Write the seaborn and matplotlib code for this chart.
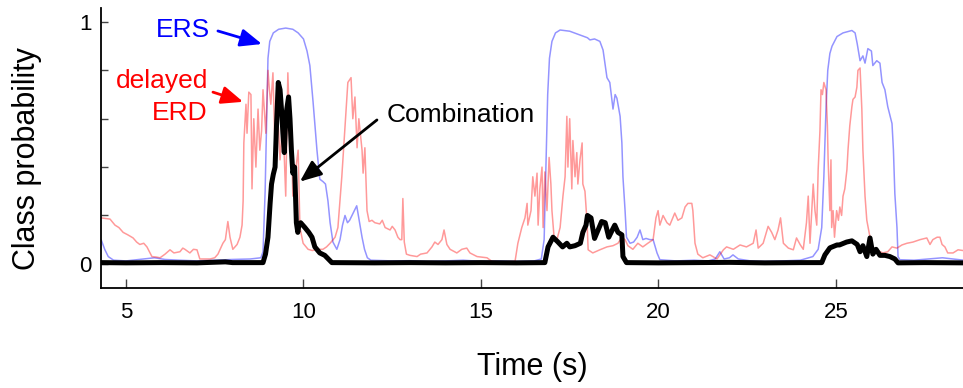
import numpy as np
import pandas as pd
import matplotlib
matplotlib.use("Agg")
import matplotlib.pyplot as plt
import seaborn as sns

# ---------------- data ----------------
ers_t = [4.30, 4.40, 4.50, 4.65, 5.0, 5.5, 5.8, 6.1, 6.5, 7.0, 7.5, 8.0, 8.5, 8.80, 8.86,
         8.92, 8.97, 9.00, 9.05, 9.15, 9.30, 9.50, 9.70, 9.85, 10.0, 10.10, 10.18, 10.27,
         10.38, 10.46, 10.55, 10.62, 10.69, 10.75, 10.83, 10.94, 11.03, 11.10, 11.17, 11.24,
         11.30, 11.40, 11.50, 11.57, 11.65, 11.72, 11.80, 11.9, 12.5, 13.0, 13.5, 14.0, 14.5,
         15.0, 15.5, 16.0, 16.5, 16.70, 16.78, 16.83, 16.88, 16.93, 17.00, 17.10, 17.23,
         17.50, 17.80, 18.0, 18.07, 18.20, 18.35, 18.44, 18.55, 18.63, 18.72, 18.78, 18.83,
         18.92, 18.97, 19.00, 19.06, 19.10, 19.20, 19.30, 19.40, 19.48, 19.56, 19.65, 19.76,
         19.85, 19.96, 20.04, 20.5, 21.0, 21.4, 21.6, 21.73, 21.85, 22.0, 22.1, 22.25, 22.6,
         23.0, 23.5, 24.0, 24.35, 24.50, 24.60, 24.66, 24.72, 24.77, 24.83, 24.89, 25.03,
         25.20, 25.45, 25.54, 25.60, 25.68, 25.76, 25.82, 25.90, 26.00, 26.04, 26.15, 26.24,
         26.30, 26.38, 26.46, 26.58, 26.62, 26.66, 26.72, 26.75, 26.80, 27.2, 27.6, 28.0,
         28.3, 28.6]
ers_p = [0.10, 0.06, 0.03, 0.015, 0.012, 0.02, 0.025, 0.018, 0.015, 0.012, 0.015, 0.018, 0.02,
         0.025, 0.05, 0.30, 0.65, 0.85, 0.92, 0.955, 0.97, 0.975, 0.97, 0.955, 0.93, 0.88,
         0.82, 0.67, 0.47, 0.35, 0.34, 0.33, 0.26, 0.17, 0.09, 0.06, 0.10, 0.16, 0.20, 0.17,
         0.18, 0.21, 0.24, 0.18, 0.11, 0.06, 0.025, 0.015, 0.012, 0.013, 0.01, 0.012, 0.015,
         0.01, 0.012, 0.01, 0.012, 0.02, 0.10, 0.40, 0.70, 0.85, 0.92, 0.955, 0.967, 0.962,
         0.946, 0.935, 0.926, 0.93, 0.92, 0.884, 0.77, 0.75, 0.64, 0.70, 0.685, 0.61, 0.50,
         0.36, 0.22, 0.11, 0.085, 0.09, 0.11, 0.14, 0.10, 0.105, 0.10, 0.10, 0.045, 0.017,
         0.012, 0.015, 0.012, 0.02, 0.05, 0.02, 0.025, 0.037, 0.02, 0.012, 0.01, 0.012, 0.015,
         0.03, 0.06, 0.15, 0.36, 0.64, 0.80, 0.87, 0.90, 0.94, 0.955, 0.965, 0.955, 0.91,
         0.84, 0.86, 0.83, 0.89, 0.88, 0.82, 0.84, 0.83, 0.75, 0.72, 0.65, 0.58, 0.47, 0.29,
         0.15, 0.03, 0.017, 0.015, 0.02, 0.025, 0.02, 0.015]

erd_t = [4.30, 4.55, 4.69, 4.80, 4.92, 5.05, 5.20, 5.30, 5.39, 5.50, 5.59, 5.66, 5.73, 5.85,
         5.96, 6.10, 6.24, 6.35, 6.52, 6.60, 6.66, 6.80, 6.90, 7.00, 7.08, 7.20, 7.37, 7.50,
         7.59, 7.73, 7.80, 7.87, 7.93, 8.01, 8.13, 8.21, 8.27, 8.30, 8.32, 8.38, 8.41, 8.46,
         8.52, 8.55, 8.60, 8.66, 8.72, 8.77, 8.82, 8.86, 8.94, 9.00, 9.04, 9.08, 9.14, 9.20,
         9.25, 9.30, 9.34, 9.42, 9.50, 9.56, 9.62, 9.66, 9.70, 9.75, 9.79, 9.85, 9.90, 9.99,
         10.13, 10.25, 10.38, 10.55, 10.65, 10.75, 10.89, 10.97, 11.08, 11.17, 11.25, 11.34,
         11.39, 11.45, 11.51, 11.56, 11.65, 11.68, 11.73, 11.79, 11.85, 11.93, 12.01, 12.15,
         12.22, 12.30, 12.44, 12.50, 12.58, 12.66, 12.72, 12.77, 12.80, 12.84, 12.90, 13.00,
         13.20, 13.30, 13.48, 13.62, 13.70, 13.79, 13.90, 13.96, 14.04, 14.13, 14.32, 14.46,
         14.60, 14.69, 14.89, 15.17, 15.31, 15.60, 15.96, 16.04, 16.15, 16.24, 16.30, 16.32,
         16.41, 16.46, 16.52, 16.58, 16.61, 16.66, 16.72, 16.75, 16.80, 16.86, 16.92, 16.97,
         17.00, 17.06, 17.14, 17.23, 17.31, 17.37, 17.42, 17.45, 17.50, 17.56, 17.59, 17.65,
         17.70, 17.73, 17.79, 17.85, 17.87, 17.93, 17.99, 18.02, 18.15, 18.35, 18.55, 18.72,
         18.86, 18.97, 19.06, 19.14, 19.28, 19.42, 19.56, 19.70, 19.85, 19.93, 19.99, 20.04,
         20.13, 20.24, 20.32, 20.46, 20.55, 20.66, 20.75, 20.83, 20.94, 20.97, 21.03, 21.11,
         21.25, 21.45, 21.65, 21.83, 21.92, 22.11, 22.30, 22.48, 22.67, 22.75, 22.81, 22.95,
         23.09, 23.19, 23.28, 23.37, 23.44, 23.52, 23.66, 23.80, 23.89, 23.99, 24.08, 24.17,
         24.22, 24.27, 24.32, 24.36, 24.41, 24.46, 24.50, 24.55, 24.58, 24.62, 24.66, 24.72,
         24.76, 24.78, 24.83, 24.86, 24.88, 24.92, 24.96, 25.02, 25.07, 25.11, 25.16, 25.20,
         25.25, 25.31, 25.34, 25.39, 25.45, 25.48, 25.54, 25.59, 25.62, 25.68, 25.73, 25.76,
         25.82, 25.87, 25.96, 26.04, 26.18, 26.32, 26.46, 26.58, 26.72, 26.86, 27.00, 27.17,
         27.37, 27.56, 27.65, 27.73, 27.85, 27.93, 27.99, 28.07, 28.15, 28.30, 28.44, 28.58]
erd_p = [0.19, 0.185, 0.16, 0.15, 0.13, 0.12, 0.107, 0.09, 0.08, 0.085, 0.07, 0.05, 0.03, 0.028,
         0.025, 0.04, 0.058, 0.045, 0.05, 0.065, 0.06, 0.045, 0.06, 0.058, 0.02, 0.02, 0.02,
         0.025, 0.04, 0.085, 0.10, 0.175, 0.11, 0.06, 0.08, 0.11, 0.16, 0.26, 0.50, 0.66, 0.54,
         0.71, 0.70, 0.31, 0.60, 0.40, 0.64, 0.47, 0.55, 0.72, 0.54, 0.80, 0.72, 0.66, 0.79,
         0.47, 0.64, 0.55, 0.43, 0.60, 0.28, 0.79, 0.50, 0.56, 0.28, 0.35, 0.40, 0.47, 0.15,
         0.085, 0.06, 0.055, 0.06, 0.06, 0.07, 0.085, 0.11, 0.15, 0.36, 0.57, 0.75, 0.77, 0.60,
         0.69, 0.48, 0.60, 0.47, 0.375, 0.48, 0.22, 0.175, 0.18, 0.17, 0.165, 0.18, 0.15, 0.14,
         0.155, 0.14, 0.11, 0.10, 0.10, 0.27, 0.09, 0.04, 0.035, 0.03, 0.04, 0.045, 0.07, 0.09,
         0.08, 0.10, 0.14, 0.08, 0.06, 0.045, 0.06, 0.065, 0.045, 0.03, 0.025, 0.01, 0.008,
         0.01, 0.085, 0.15, 0.19, 0.25, 0.16, 0.22, 0.36, 0.28, 0.375, 0.16, 0.31, 0.40, 0.15,
         0.38, 0.22, 0.44, 0.33, 0.22, 0.11, 0.10, 0.15, 0.28, 0.36, 0.61, 0.40, 0.60, 0.31,
         0.51, 0.36, 0.46, 0.33, 0.43, 0.50, 0.33, 0.30, 0.17, 0.058, 0.045, 0.058, 0.07, 0.075,
         0.085, 0.11, 0.10, 0.075, 0.06, 0.085, 0.07, 0.085, 0.10, 0.19, 0.22, 0.16, 0.20,
         0.17, 0.16, 0.21, 0.18, 0.19, 0.235, 0.25, 0.25, 0.22, 0.085, 0.04, 0.025, 0.037,
         0.02, 0.058, 0.07, 0.06, 0.078, 0.07, 0.085, 0.14, 0.065, 0.085, 0.155, 0.13, 0.10,
         0.14, 0.19, 0.085, 0.065, 0.058, 0.107, 0.08, 0.06, 0.17, 0.28, 0.085, 0.22, 0.33,
         0.22, 0.16, 0.39, 0.55, 0.72, 0.70, 0.75, 0.72, 0.57, 0.43, 0.22, 0.43, 0.15, 0.22,
         0.11, 0.22, 0.18, 0.235, 0.20, 0.28, 0.31, 0.39, 0.47, 0.57, 0.65, 0.68, 0.69, 0.73,
         0.80, 0.81, 0.64, 0.47, 0.28, 0.18, 0.11, 0.058, 0.055, 0.045, 0.05, 0.07, 0.065,
         0.078, 0.085, 0.09, 0.10, 0.107, 0.08, 0.10, 0.11, 0.11, 0.08, 0.07, 0.045, 0.045,
         0.058, 0.055]

comb_t = [4.30, 5.0, 6.0, 7.0, 7.8, 8.0, 8.86, 8.93, 9.00, 9.06, 9.10, 9.15, 9.20, 9.24, 9.29,
          9.34, 9.39, 9.42, 9.46, 9.50, 9.53, 9.58, 9.62, 9.66, 9.70, 9.75, 9.80, 9.84, 9.87,
          9.92, 10.04, 10.15, 10.24, 10.32, 10.46, 10.60, 10.70, 10.80, 12.0, 13.0, 14.0, 15.0,
          16.0, 16.80, 16.89, 17.03, 17.17, 17.30, 17.42, 17.50, 17.65, 17.80, 17.87, 17.96,
          18.00, 18.10, 18.20, 18.30, 18.40, 18.50, 18.60, 18.70, 18.77, 18.86, 18.97, 19.00,
          19.10, 20.0, 21.0, 22.0, 23.0, 24.0, 24.60, 24.69, 24.83, 25.03, 25.10, 25.30, 25.45,
          25.60, 25.68, 25.76, 25.87, 25.96, 26.04, 26.13, 26.24, 26.38, 26.52, 26.66, 26.75,
          27.5, 28.6]
comb_p = [0.005, 0.004, 0.005, 0.004, 0.008, 0.005, 0.005, 0.04, 0.11, 0.25, 0.33, 0.37, 0.40,
          0.57, 0.75, 0.72, 0.62, 0.54, 0.46, 0.60, 0.64, 0.69, 0.60, 0.47, 0.375, 0.40, 0.17,
          0.13, 0.16, 0.17, 0.15, 0.13, 0.11, 0.07, 0.045, 0.035, 0.02, 0.005, 0.004, 0.005,
          0.004, 0.005, 0.004, 0.005, 0.07, 0.11, 0.09, 0.07, 0.085, 0.07, 0.075, 0.085, 0.13,
          0.16, 0.20, 0.19, 0.105, 0.14, 0.175, 0.17, 0.11, 0.14, 0.16, 0.13, 0.12, 0.03,
          0.005, 0.004, 0.005, 0.006, 0.004, 0.005, 0.005, 0.037, 0.066, 0.078, 0.078, 0.09,
          0.095, 0.08, 0.05, 0.075, 0.03, 0.107, 0.04, 0.06, 0.035, 0.035, 0.03, 0.02, 0.004,
          0.005, 0.004]

x_ticks = [5, 10, 15, 20, 25]
y_ticks = [0, 0.2, 0.4, 0.6, 0.8, 1.0]
y_ticklabels = ["0", "", "", "", "", "1"]

# ---------------- styling ----------------
sns.set_style("ticks")
plt.rcParams["font.family"] = ["Liberation Sans", "DejaVu Sans"]
plt.rcParams["text.color"] = "black"
plt.rcParams["axes.labelcolor"] = "black"
plt.rcParams["xtick.color"] = "black"
plt.rcParams["ytick.color"] = "black"

fig = plt.figure(figsize=(9.63, 3.88), dpi=100)
ax = fig.add_axes([101 / 963, 1 - 288 / 388, 862 / 963, 280 / 388])

ers_df = pd.DataFrame({"t": ers_t, "p": ers_p})
erd_df = pd.DataFrame({"t": erd_t, "p": erd_p})
comb_df = pd.DataFrame({"t": comb_t, "p": comb_p})

sns.lineplot(data=ers_df, x="t", y="p", ax=ax, color="blue", alpha=0.42, lw=1.1,
             estimator=None)
sns.lineplot(data=erd_df, x="t", y="p", ax=ax, color="red", alpha=0.4, lw=1.1,
             estimator=None)
sns.lineplot(data=comb_df, x="t", y="p", ax=ax, color="black", lw=3.6,
             estimator=None, solid_joinstyle="round")

ax.set_xlim(4.296, 28.58)
ax.set_ylim(-0.1, 1.058)
ax.set_xticks(x_ticks)
ax.set_xticklabels([str(v) for v in x_ticks])
ax.set_yticks(y_ticks)
ax.set_yticklabels(y_ticklabels)

sns.despine(ax=ax, top=True, right=True)
for s in ["left", "bottom"]:
    ax.spines[s].set_linewidth(1.3)
    ax.spines[s].set_color("black")
ax.tick_params(axis="x", direction="in", length=6.5, width=1, color="#444444",
               labelcolor="black", labelsize=16, pad=10)
ax.tick_params(axis="y", direction="in", length=5, width=1, color="#444444",
               labelcolor="black", labelsize=16, pad=7)

ax.set_xlabel("Time (s)", fontsize=22, color="black")
ax.set_ylabel("Class probability", fontsize=22, color="black")
ax.xaxis.set_label_coords(0.5, -0.229)
ax.yaxis.set_label_coords(-0.068, 0.464)

# ---------------- annotations ----------------
fs_ann = 19
ax.text(6.61, 0.938, "ERS", color="blue", fontsize=fs_ann, ha="center", va="baseline")
ax.text(7.31, 0.727, "delayed", color="red", fontsize=fs_ann, ha="right", va="baseline")
ax.text(7.31, 0.595, "ERD", color="red", fontsize=fs_ann, ha="right", va="baseline")
ax.text(12.35, 0.587, "Combination", color="black", fontsize=fs_ann, ha="left",
        va="baseline")

arrow_style = "-|>,head_length=0.65,head_width=0.27"
ax.annotate("", xy=(8.83, 0.909), xytext=(7.59, 0.963),
            arrowprops=dict(arrowstyle=arrow_style, color="blue", lw=2,
                            mutation_scale=20, shrinkA=0, shrinkB=0))
ax.annotate("", xy=(8.30, 0.67), xytext=(7.45, 0.71),
            arrowprops=dict(arrowstyle=arrow_style, color="red", lw=2,
                            mutation_scale=20, shrinkA=0, shrinkB=0))
ax.annotate("", xy=(9.90, 0.34), xytext=(12.07, 0.595),
            arrowprops=dict(arrowstyle=arrow_style, color="black", lw=2,
                            mutation_scale=20, shrinkA=0, shrinkB=0))

fig.savefig("out.png", dpi=100)
